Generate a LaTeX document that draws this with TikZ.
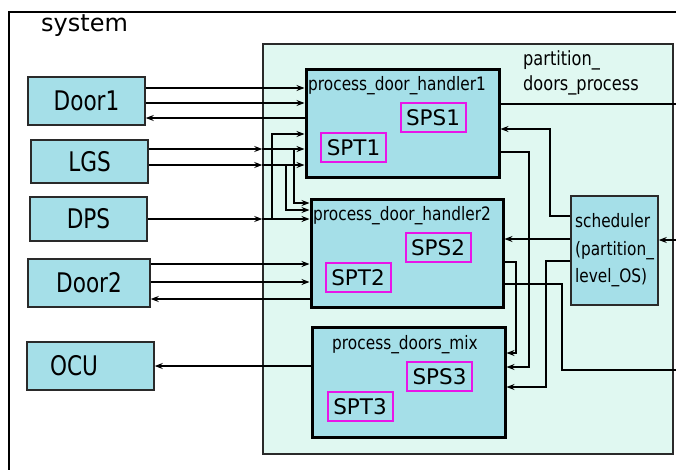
\documentclass[tikz,border=0pt]{standalone}
\usepackage{fontspec}
\setmainfont{DejaVu Sans}
\newfontfamily\condfont[FakeStretch=0.83]{DejaVu Sans}
\newfontfamily\doorfont[FakeStretch=0.8]{DejaVu Sans}
\usetikzlibrary{arrows.meta}
\definecolor{boxfill}{HTML}{A5DFE8}
\definecolor{partfill}{HTML}{E0F8F1}
\definecolor{spmag}{HTML}{E815E8}
\definecolor{edgegray}{HTML}{2A2A2A}
\begin{document}
\begin{tikzpicture}[x=1pt,y=-1pt,
  ext/.style={draw=edgegray,line width=1.5pt,fill=boxfill,inner sep=0pt,
    font=\doorfont\fontsize{27}{30}\selectfont},
  proc/.style={draw=black,line width=3pt,fill=boxfill,inner sep=0pt,
    minimum width=193pt,minimum height=108pt},
  spbox/.style={draw=spmag,line width=2pt,inner sep=0pt,
    minimum width=65pt,minimum height=29pt,font=\fontsize{21.5}{24}\selectfont},
  ttl/.style={inner sep=0pt,font=\condfont\fontsize{18.5}{20}\selectfont},
  conn/.style={line width=1.1pt,-{Stealth[length=8pt,width=6pt]}},
  wire/.style={line width=1.1pt}]
\useasboundingbox (0,0) rectangle (676,469);
\draw[line width=1.6pt] (9,12) rectangle (700,500);
\node[anchor=west,inner sep=0pt,font=\fontsize{24}{28}\selectfont] (sysl) at (41,26) {system};

\node[ext,minimum width=117pt,minimum height=48pt] (door1) at (86.5,101) {Door1};
\node[ext,minimum width=117pt,minimum height=43pt] (lgs) at (89.5,161.5) {LGS};
\node[ext,minimum width=117pt,minimum height=44pt] (dps) at (88.5,219) {DPS};
\node[ext,minimum width=122pt,minimum height=48pt] (door2) at (89,283) {Door2};
\node[ext,minimum width=127pt,minimum height=48pt,text width=81pt,align=left] (ocu) at (90.5,366) {OCU};

\node[draw=edgegray,line width=1.5pt,fill=partfill,inner sep=0pt,
  minimum width=410pt,minimum height=410pt] (part) at (468,249) {};
\node[ttl,anchor=north west,align=left,font=\condfont\fontsize{19.5}{25}\selectfont] (partl) at (523,50) {partition\_\\doors\_process};

\node[proc] (p1) at (402.5,123) {};
\node[proc,minimum width=192pt] (p2) at (407,253) {};
\node[proc,minimum height=110pt] (p3) at (408.5,382) {};
\node[ttl,anchor=west] (p1t) at (308,86) {process\_door\_handler1};
\node[ttl,anchor=west] (p2t) at (313,216) {process\_door\_handler2};
\node[ttl] (p3t) at (405,345) {process\_doors\_mix};

\foreach \nm/\txt/\x/\y in {sps1/SPS1/433/117.5,spt1/SPT1/353.5/147.5,
  sps2/SPS2/438/247.5,spt2/SPT2/358/277.5,sps3/SPS3/439.5/376.5,spt3/SPT3/360/406.5}{
  \node[spbox] (\nm) at (\x,\y) {\txt};
}

\node[draw=edgegray,line width=1.5pt,fill=boxfill,inner sep=0pt,align=left,
  minimum width=87pt,minimum height=109pt,
  font=\condfont\fontsize{18.5}{27.5}\selectfont] (sched) at (614.5,250.5) {scheduler\\(partition\_\\level\_OS)};

\coordinate (lgsa) at (294,149);
\coordinate (lgsb) at (286,165);
\coordinate (dpsa) at (272,219);
\coordinate (outa) at (685,104);
\coordinate (outb) at (685,370);
\coordinate (ina) at (685,240);

\draw[conn] (door1.east |- 0,88) -- (p1.west |- 0,88);
\draw[conn] (door1.east |- 0,103) -- (p1.west |- 0,103);
\draw[conn] (p1.west |- 0,118) -- (door1.east |- 0,118);
\draw[conn] (lgs.east |- 0,149) -- (part.west |- 0,149);
\draw[conn] (part.west |- 0,149) -- (p1.west |- 0,149);
\draw[conn] (lgs.east |- 0,165) -- (part.west |- 0,165);
\draw[conn] (part.west |- 0,165) -- (p1.west |- 0,165);
\draw[conn] (dps.east |- 0,219) -- (part.west |- 0,219);
\draw[conn] (part.west |- 0,219) -- (p2.west |- 0,219);
\draw[conn] (lgsa) |- (p2.west |- 0,203);
\draw[conn] (lgsb) |- (p2.west |- 0,210);
\draw[conn] (dpsa) |- (p1.west |- 0,134);
\draw[conn] (door2.east |- 0,264) -- (p2.west |- 0,264);
\draw[conn] (door2.east |- 0,282) -- (p2.west |- 0,282);
\draw[conn] (p2.west |- 0,299) -- (door2.east |- 0,299);
\draw[conn] (p3.west |- 0,366) -- (ocu.east |- 0,366);

\draw[wire] (p1.east |- 0,104) -- (outa);
\draw[conn] (sched.west |- 0,216) -| (550,129) -- (p1.east |- 0,129);
\draw[conn] (sched.west |- 0,239) -- (p2.east |- 0,239);
\draw[conn] (sched.west |- 0,261) -| (546,387) -- (p3.east |- 0,387);
\draw[conn] (p1.east |- 0,152) -| (529,367) -- (p3.east |- 0,367);
\draw[conn] (p2.east |- 0,262) -| (516,353) -- (p3.east |- 0,353);
\draw[wire] (p2.east |- 0,284) -| (562,370) -- (outb);
\draw[conn] (ina) -- (sched.east |- 0,240);
\end{tikzpicture}
\end{document}
